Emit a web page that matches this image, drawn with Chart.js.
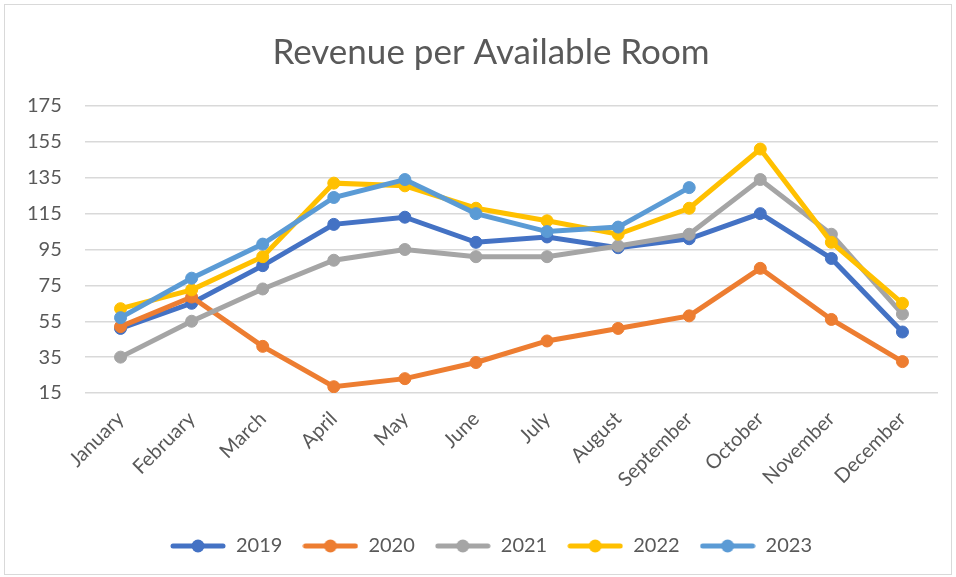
<!DOCTYPE html>
<html>
<head>
<meta charset="utf-8">
<script src="https://cdn.jsdelivr.net/npm/chart.js@4/dist/chart.umd.min.js"></script>
<style>
  html, body { margin: 0; padding: 0; background: #ffffff; }
  #wrap { width: 956px; height: 577px; position: relative; }
</style>
</head>
<body>
<div id="wrap"><canvas id="c" width="956" height="577"></canvas></div>
<script>
const chartTitle = "Revenue per Available Room";
const months = ["January", "February", "March", "April", "May", "June", "July", "August", "September", "October", "November", "December"];
const seriesNames = ["2019", "2020", "2021", "2022", "2023"];
const values2019 = [51, 65, 86, 109, 113, 99, 102, 96, 101, 115, 90, 49];
const values2020 = [52, 68.5, 41, 18.5, 23, 32, 44, 51, 58, 84.5, 56, 32.5];
const values2021 = [35, 55, 73, 89, 95, 91, 91, 97, 103.5, 134, 103.5, 59];
const values2022 = [62, 72.5, 91, 132, 130.5, 118, 111, 103.5, 118, 151, 99, 65];
const values2023 = [57, 79, 98, 124, 134, 115, 105, 107.5, 129.5, null, null, null];
const yTicks = [15, 35, 55, 75, 95, 115, 135, 155, 175];

const seriesValues = [values2019, values2020, values2021, values2022, values2023];
const colors = ["#4472C4", "#ED7D31", "#A5A5A5", "#FFC000", "#5B9BD5"];
const FONT = "Lato, 'Open Sans', sans-serif";
const TEXT = "#595959";

function legendMarker(color) {
  const cv = document.createElement('canvas');
  cv.width = 56; cv.height = 14;
  const g = cv.getContext('2d');
  g.strokeStyle = color; g.lineWidth = 5; g.lineCap = 'round';
  g.beginPath(); g.moveTo(3, 7); g.lineTo(53, 7); g.stroke();
  g.fillStyle = color;
  g.beginPath(); g.arc(28, 7, 6.5, 0, Math.PI * 2); g.fill();
  return cv;
}
const markers = colors.map(legendMarker);

const datasets = seriesNames.map((name, i) => ({
  label: name,
  data: seriesValues[i],
  borderColor: colors[i],
  backgroundColor: colors[i],
  pointBackgroundColor: colors[i],
  pointBorderColor: colors[i],
  borderWidth: 5,
  pointRadius: 6,
  pointBorderWidth: 1,
  pointHoverRadius: 6,
  tension: 0,
  spanGaps: false,
  order: seriesNames.length - i
}));

const framePlugin = {
  id: 'frame',
  beforeDraw(chart) {
    const ctx = chart.ctx;
    ctx.save();
    ctx.fillStyle = '#ffffff';
    ctx.fillRect(0, 0, chart.width, chart.height);
    ctx.strokeStyle = '#d9d9d9';
    ctx.lineWidth = 1;
    ctx.strokeRect(4.5, 4.5, 947, 570);
    ctx.restore();
  }
};

new Chart(document.getElementById('c'), {
  type: 'line',
  data: { labels: months, datasets },
  plugins: [framePlugin],
  options: {
    responsive: false,
    animation: false,
    layout: { padding: { left: 44, right: 18, top: 0, bottom: 11 } },
    plugins: {
      title: {
        display: true,
        text: chartTitle,
        color: TEXT,
        font: { family: FONT, size: 35, weight: 'normal' },
        padding: { top: 32, bottom: 32 }
      },
      legend: {
        position: 'bottom',
        labels: {
          usePointStyle: true,
          pointStyleWidth: 56,
          padding: 20,
          color: TEXT,
          font: { family: FONT, size: 20 },
          sort: (a, b) => a.datasetIndex - b.datasetIndex,
          generateLabels(chart) {
            const items = Chart.defaults.plugins.legend.labels.generateLabels(chart);
            items.forEach(it => { it.pointStyle = markers[it.datasetIndex]; });
            return items;
          }
        }
      },
      tooltip: { enabled: false }
    },
    scales: {
      x: {
        offset: true,
        grid: { display: false },
        border: { display: false },
        ticks: {
          autoSkip: false,
          maxRotation: 45,
          minRotation: 45,
          padding: 6,
          color: TEXT,
          font: { family: FONT, size: 20 }
        },
        afterFit(scale) { scale.height = 123; }
      },
      y: {
        min: 15,
        max: 175,
        afterBuildTicks(scale) { scale.ticks = yTicks.map(v => ({ value: v })); },
        grid: { color: '#d9d9d9', lineWidth: 1.5, drawTicks: false },
        border: { display: false },
        ticks: {
          mirror: true,
          crossAlign: 'far',
          padding: -58,
          color: TEXT,
          font: { family: FONT, size: 20 }
        },
        afterFit(scale) { scale.width = 41; }
      }
    }
  }
});
</script>
</body>
</html>
